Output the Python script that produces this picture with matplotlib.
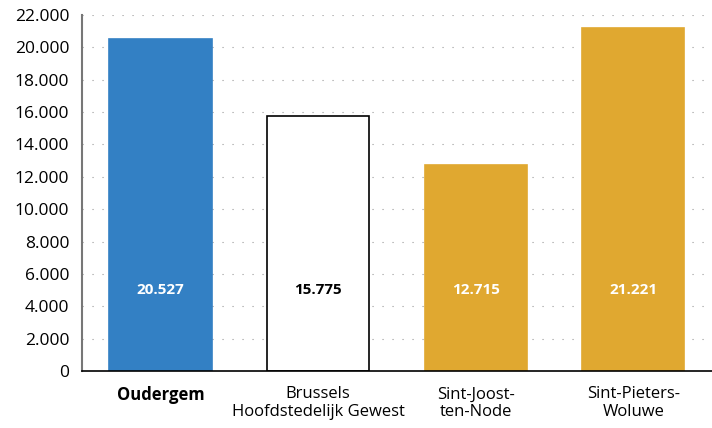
import matplotlib
matplotlib.use("Agg")
import matplotlib.pyplot as plt
from matplotlib.ticker import FuncFormatter, MultipleLocator

plt.rcParams["font.family"] = ["Open Sans", "DejaVu Sans"]

# data
categories = ["Oudergem", "Brussels\nHoofdstedelijk Gewest", "Sint-Joost-\nten-Node", "Sint-Pieters-\nWoluwe"]
values = [20527, 15775, 12715, 21221]
value_labels = ["20.527", "15.775", "12.715", "21.221"]

face_colors = ["#3380c4", "white", "#e0a830", "#e0a830"]
edge_colors = ["#3380c4", "black", "#e0a830", "#e0a830"]
text_colors = ["white", "black", "white", "white"]


def thousands(v, pos):
    return f"{int(v):,}".replace(",", ".")


fig = plt.figure(figsize=(7.12, 4.28), dpi=100)
ax = fig.add_axes([0.115, 0.133, 0.885, 0.832])

x = range(len(categories))
ax.bar(x, values, width=0.65, color=face_colors, edgecolor=edge_colors, linewidth=1.2, zorder=2)
for i, (lab, col) in enumerate(zip(value_labels, text_colors)):
    ax.text(i, 5000, lab, ha="center", va="center", color=col, fontsize=11, fontweight="bold", zorder=3)

ax.set_xlim(-0.5, 3.5)
ax.set_ylim(0, 22000)
ax.yaxis.set_major_locator(MultipleLocator(2000))
ax.yaxis.set_major_formatter(FuncFormatter(thousands))
ax.set_xticks(list(x))
ax.set_xticklabels(categories, fontsize=12, linespacing=1.15)
ax.get_xticklabels()[0].set_fontweight("bold")
ax.tick_params(axis="y", labelsize=12.5, length=0, pad=9)
ax.tick_params(axis="x", length=0, pad=11)

ax.grid(axis="y", linestyle=(0, (1, 8)), color="#999999", linewidth=0.8, zorder=0)
ax.set_axisbelow(True)
for s in ["top", "right"]:
    ax.spines[s].set_visible(False)
ax.spines["left"].set_color("#777777")
ax.spines["left"].set_linewidth(1.5)
ax.spines["bottom"].set_color("black")
ax.spines["bottom"].set_linewidth(1.2)

fig.savefig("out.png", dpi=100)
